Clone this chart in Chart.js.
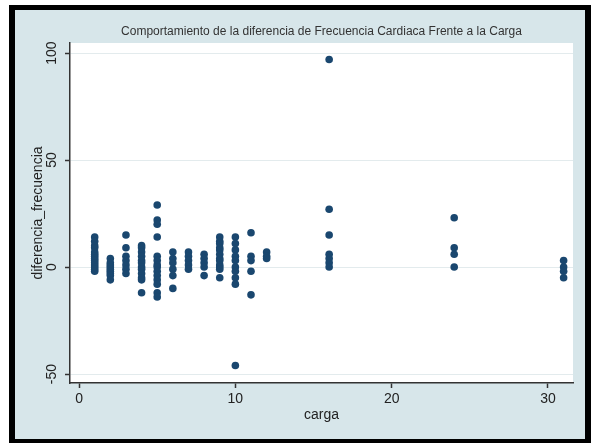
<!DOCTYPE html>
<html>
<head>
<meta charset="utf-8">
<script src="https://cdn.jsdelivr.net/npm/chart.js@4"></script>
<style>
body{margin:0;background:#fff}
</style>
</head>
<body>
<canvas id="scatter" width="591" height="443"></canvas>
<script>
// valores
const cargaNiveles=[1,2,3,4,5,6,7,8,9,10,11,12,16,24,31]
const diferencias=[
[14,12,10,9,7,6,5,4,3,2,1,0,-1,-2],
[4,2,1,0,-1,-2,-3,-4,-6],
[15,9,5,3,1,-1,-3],
[10,9,7,5,3,2,0,-1,-3,-5,-6,-12],
[29,22,20,14,5,3,1,0,-2,-4,-6,-8,-12,-14],
[7,4,2,-1,-4,-10],
[7,5,3,1,-1],
[6,4,2,0,-4],
[14,12,11,9,8,6,4,3,1,0,-1,-5],
[14,11,8,5,3,0,-2,-5,-8,-46],
[16,5,3,-2,-13],
[7,5,4],
[97,27,15,6,4,2,0],
[23,9,6,0],
[3,0,-2,-5]
]
const xTicks=[0,10,20,30]
const yTicks=[-50,0,50,100]

let puntos=[]
cargaNiveles.forEach((c,i)=>{
diferencias[i].forEach(d=>{
puntos.push({x:c,y:d})
})
})

Chart.defaults.font.family='Liberation Sans'
Chart.defaults.color='#222'

// fondo estilo stata
const fondo={
id:'fondo',
beforeDraw(chart){
const ctx=chart.ctx
const a=chart.chartArea
ctx.save()
ctx.fillStyle='#fff'
ctx.fillRect(0,0,chart.width,chart.height)
ctx.fillStyle='#000'
ctx.fillRect(9,5,chart.width-9,chart.height-5)
ctx.fillStyle='#d7e6ea'
ctx.fillRect(15,10,570,429)
ctx.fillStyle='#fff'
ctx.fillRect(a.left,a.top,a.right-a.left,a.bottom-a.top)
ctx.restore()
},
afterLayout(chart){
// titulo centrado sobre el area del grafico
const t=chart.titleBlock
const a=chart.chartArea
t.left=a.left
t.right=a.right
t.width=a.right-a.left
}
}

new Chart(document.getElementById('scatter'),{
type:'scatter',
data:{
datasets:[{
data:puntos,
backgroundColor:'#1a476f',
borderColor:'#1a476f',
borderWidth:0,
pointRadius:3.8,
pointHoverRadius:3.8
}]
},
options:{
responsive:false,
animation:false,
layout:{padding:{left:0,right:18,top:0,bottom:0}},
plugins:{
legend:{display:false},
tooltip:{enabled:false},
title:{
display:true,
text:'Comportamiento de la diferencia de Frecuencia Cardiaca Frente a la Carga',
color:'#333',
font:{size:12,weight:'normal'},
padding:{top:24.5,bottom:4.1}
}
},
scales:{
x:{
type:'linear',
min:-0.58,
max:31.6,
afterBuildTicks:s=>{s.ticks=xTicks.map(v=>({value:v}))},
afterFit:s=>{s.height=60},
grid:{drawOnChartArea:false,tickLength:5,tickColor:'#333',tickWidth:1.5},
border:{color:'#333',width:1.5},
ticks:{font:{size:14},padding:3,autoSkip:false,maxRotation:0},
title:{display:true,text:'carga',font:{size:14},padding:{bottom:19}}
},
y:{
min:-54.2,
max:104.7,
afterBuildTicks:s=>{s.ticks=yTicks.map(v=>({value:v}))},
afterFit:s=>{s.width=70},
grid:{color:'#e3ebed',tickLength:5,tickColor:'#333',tickWidth:1.5},
border:{color:'#333',width:1.5},
ticks:{font:{size:14},minRotation:90,maxRotation:90,crossAlign:'center',padding:1,autoSkip:false},
title:{display:true,text:'diferencia_frecuencia',font:{size:14},padding:{top:30}}
}
}
},
plugins:[fondo]
})
</script>
</body>
</html>
